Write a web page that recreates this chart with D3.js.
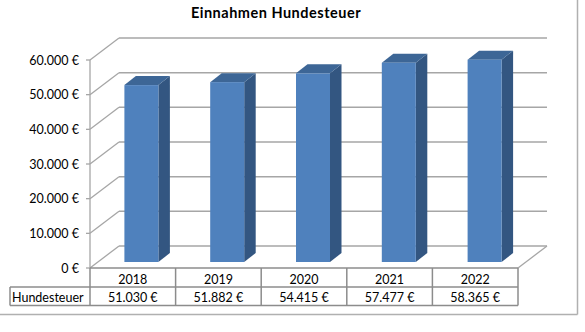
<!DOCTYPE html>
<html><head><meta charset="utf-8">
<script src="https://cdn.jsdelivr.net/npm/d3@7"></script>
<style>
html,body{margin:0;padding:0;background:#fff;}
svg{display:block;font-family:"Lato","Open Sans",sans-serif;}
</style></head>
<body>
<script>
const title = "Einnahmen Hundesteuer";
const seriesName = "Hundesteuer";
const years = ["2018","2019","2020","2021","2022"];
const values = [51030, 51882, 54415, 57477, 58365];
const yTicks = [0, 10000, 20000, 30000, 40000, 50000, 60000];

const W = 585, H = 332;
const de = d3.formatLocale({decimal: ",", thousands: ".", grouping: [3], currency: ["", " €"]});
const fmt = v => de.format(",.0f")(v) + " €";

const svg = d3.select("body").append("svg").attr("width", W).attr("height", H);

const y = d3.scaleLinear().domain([0, 60000]).range([268, 60]);
const x = d3.scaleBand().domain(years).range([90, 518]).padding(0);
const xb = d3.scaleBand().domain(years).range([98.5, 527.5]).padding(0);
const D = {dx: 29, dy: -22};       // full depth
const F = {dx: 7.6, dy: -6};       // bar front offset
const B = {dx: 11.5, dy: -9};      // bar depth
const barW = 34;
const gridC = "#a6a6a6";

// frame
svg.append("line").attr("x1", 577.5).attr("x2", 577.5).attr("y1", 0).attr("y2", 314.5)
  .attr("stroke", "#b0b0b0").attr("stroke-width", 1.5);
svg.append("line").attr("x1", 0).attr("x2", 577.5).attr("y1", 314.5).attr("y2", 314.5)
  .attr("stroke", "#b0b0b0").attr("stroke-width", 1.5);

// title
svg.append("text").attr("x", 276).attr("y", 18).attr("text-anchor", "middle")
  .attr("font-weight", "bold").attr("font-size", 14.5).attr("letter-spacing", 0.5)
  .attr("fill", "#000").text(title);

// gridlines (left wall diagonals + back wall)
const g = svg.append("g");
yTicks.forEach(t => {
  const yy = y(t);
  g.append("line").attr("x1", x.range()[0]).attr("y1", yy)
    .attr("x2", x.range()[0] + D.dx).attr("y2", yy + D.dy)
    .attr("stroke", gridC).attr("stroke-width", 1.3);
  g.append("line").attr("x1", x.range()[0] + D.dx).attr("y1", yy + D.dy)
    .attr("x2", x.range()[1] + D.dx).attr("y2", yy + D.dy)
    .attr("stroke", gridC).attr("stroke-width", 1.5);
});
// floor right diagonal
g.append("line").attr("x1", x.range()[1]).attr("y1", y(0))
  .attr("x2", x.range()[1] + D.dx).attr("y2", y(0) + D.dy)
  .attr("stroke", gridC).attr("stroke-width", 1.3);

// left axis
const ax = svg.append("g");
ax.append("line").attr("x1", 90).attr("x2", 90).attr("y1", y(60000)).attr("y2", y(0))
  .attr("stroke", gridC).attr("stroke-width", 1.3);
yTicks.forEach(t => {
  ax.append("line").attr("x1", 86).attr("x2", 90).attr("y1", y(t)).attr("y2", y(t))
    .attr("stroke", gridC).attr("stroke-width", 1.3);
  ax.append("text").attr("x", 79).attr("y", y(t) + 4.5).attr("text-anchor", "end")
    .attr("font-size", 12.5).attr("fill", "#000").text(fmt(t));
});

// bars
const bars = svg.append("g");
years.forEach((yr, i) => {
  const v = values[i];
  const cx = xb(yr) + xb.bandwidth() / 2;
  const x0 = cx - barW / 2, x1 = cx + barW / 2;
  const yTop = y(v) + F.dy, yBot = y(0) + F.dy;
  // side
  bars.append("path").attr("d", `M${x1},${yTop}L${x1 + B.dx},${yTop + B.dy}L${x1 + B.dx},${yBot + B.dy}L${x1},${yBot}Z`)
    .attr("fill", "#335681");
  // top
  bars.append("path").attr("d", `M${x0},${yTop}L${x0 + B.dx},${yTop + B.dy}L${x1 + B.dx},${yTop + B.dy}L${x1},${yTop}Z`)
    .attr("fill", "#3d6696");
  // front
  bars.append("rect").attr("x", x0).attr("y", yTop).attr("width", barW).attr("height", yBot - yTop)
    .attr("fill", "#4f81bd");
});

// data table
const tC = "#8c8c8c";
const t = svg.append("g").attr("stroke", tC).attr("stroke-width", 1.5);
const r0 = 268, r1 = 287, r2 = 305.5;
t.append("line").attr("x1", 90).attr("x2", 518).attr("y1", r0).attr("y2", r0);
t.append("line").attr("x1", 10).attr("x2", 518).attr("y1", r1).attr("y2", r1);
t.append("line").attr("x1", 10).attr("x2", 518).attr("y1", r2).attr("y2", r2);
t.append("line").attr("x1", 10).attr("x2", 10).attr("y1", r1).attr("y2", r2);
years.forEach(yr => {
  t.append("line").attr("x1", x(yr)).attr("x2", x(yr)).attr("y1", r0).attr("y2", r2);
});
t.append("line").attr("x1", 518).attr("x2", 518).attr("y1", r0).attr("y2", r2);

const tt = svg.append("g").attr("font-size", 12.5).attr("fill", "#000");
years.forEach((yr, i) => {
  const cx = x(yr) + x.bandwidth() / 2;
  tt.append("text").attr("x", cx).attr("y", 283.5).attr("text-anchor", "middle").text(yr);
  tt.append("text").attr("x", cx).attr("y", 301.5).attr("text-anchor", "middle").text(fmt(values[i]));
});
tt.append("text").attr("x", 12).attr("y", 301.5).text(seriesName);
</script>
</body></html>
